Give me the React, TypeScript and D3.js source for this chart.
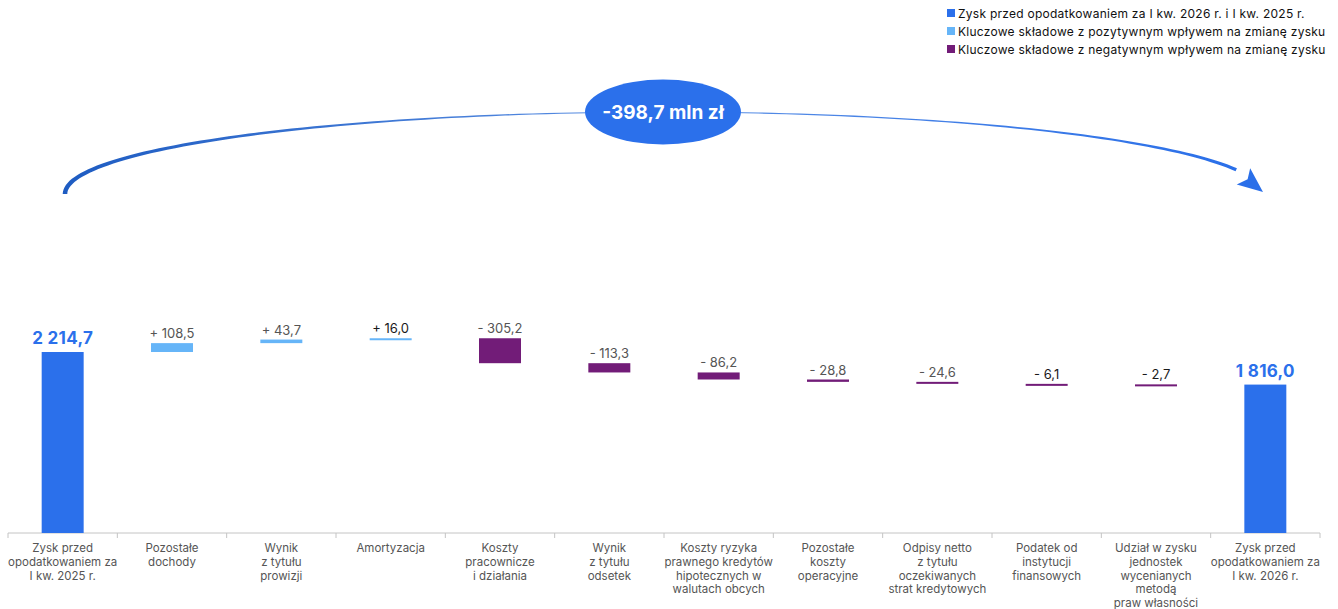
import React from "react";
import * as d3 from "d3";

const categories: string[][] = [
  ["Zysk przed", "opodatkowaniem za", "I kw. 2025 r."],
  ["Pozostałe", "dochody"],
  ["Wynik", "z tytułu", "prowizji"],
  ["Amortyzacja"],
  ["Koszty", "pracownicze", "i działania"],
  ["Wynik", "z tytułu", "odsetek"],
  ["Koszty ryzyka", "prawnego kredytów", "hipotecznych w", "walutach obcych"],
  ["Pozostałe", "koszty", "operacyjne"],
  ["Odpisy netto", "z tytułu", "oczekiwanych", "strat kredytowych"],
  ["Podatek od", "instytucji", "finansowych"],
  ["Udział w zysku", "jednostek", "wycenianych", "metodą", "praw własności"],
  ["Zysk przed", "opodatkowaniem za", "I kw. 2026 r."],
];
const values: number[] = [2214.7, 108.5, 43.7, 16.0, -305.2, -113.3, -86.2, -28.8, -24.6, -6.1, -2.7, 1816.0];
const isTotal: boolean[] = [true, false, false, false, false, false, false, false, false, false, false, true];
const legendLabels: string[] = [
  "Zysk przed opodatkowaniem za I kw. 2026 r. i I kw. 2025 r.",
  "Kluczowe składowe z pozytywnym wpływem na zmianę zysku",
  "Kluczowe składowe z negatywnym wpływem na zmianę zysku",
];
const changeLabel = "-398,7 mln zł";

const W = 1338;
const H = 609;
const FONT = "Inter, 'Noto Sans', sans-serif";
const C_TOTAL = "#2b70eb";
const C_POS = "#66b5f8";
const C_NEG = "#721c78";

function fmt(v: number): string {
  const s = d3.format(",.1f")(Math.abs(v));
  return s.replace(/,/g, " ").replace(".", ",");
}

export default function App() {
  const x = d3
    .scaleBand<number>()
    .domain(values.map((_, i) => i))
    .range([8, 1320])
    .paddingInner(0.616)
    .paddingOuter(0.308);
  const y = d3.scaleLinear().domain([0, 2214.7]).range([533, 352]);
  const step = x.step();
  const bw = x.bandwidth();

  let cum = 0;
  const bars = values.map((v, i) => {
    let y0: number, y1: number, color: string;
    if (isTotal[i]) {
      y0 = 0;
      y1 = v;
      cum = v;
      color = C_TOTAL;
    } else {
      y0 = cum;
      y1 = cum + v;
      cum = y1;
      color = v >= 0 ? C_POS : C_NEG;
    }
    const top = Math.min(y(y0), y(y1));
    const h = Math.max(2, Math.abs(y(y0) - y(y1)));
    return { i, v, top, h, color };
  });

  // Tapered arc (elliptical)
  const cx = 664, cy = 194, rx = 599, ry = 82;
  const tEnd = Math.PI - 0.3;
  const N = 120;
  const outer: [number, number][] = [];
  const inner: [number, number][] = [];
  for (let k = 0; k <= N; k++) {
    const t = (k / N) * tEnd;
    const px = cx - rx * Math.cos(t);
    const py = cy - ry * Math.sin(t);
    const dx = rx * Math.sin(t);
    const dy = -ry * Math.cos(t);
    const len = Math.hypot(dx, dy);
    const nx = -dy / len, ny = dx / len;
    const f = k / N;
    const w = f < 0.5 ? 4.6 - (3.6 * f) / 0.5 : 1 + 2.4 * Math.pow((f - 0.5) / 0.5, 2);
    outer.push([px + (nx * w) / 2, py + (ny * w) / 2]);
    inner.push([px - (nx * w) / 2, py - (ny * w) / 2]);
  }
  const arcPath = d3.line()([...outer, ...inner.reverse()]) + "Z";
  const ex = cx - rx * Math.cos(tEnd), ey = cy - ry * Math.sin(tEnd);
  const tip: [number, number] = [1263, 192];
  const ddx = tip[0] - ex, ddy = tip[1] - ey;
  const dl = Math.hypot(ddx, ddy);
  const ux = ddx / dl, uy = ddy / dl;
  const bx = tip[0] - ux * 25, by = tip[1] - uy * 25;
  const head = d3.line()([
    tip,
    [bx - uy * 11, by + ux * 11],
    [bx + ux * 5, by + uy * 5],
    [bx + uy * 10, by - ux * 10],
  ]) + "Z";

  return (
    <div style={{ position: "absolute", left: 0, top: 0 }}>
      <svg width={W} height={H} style={{ display: "block", fontFamily: FONT }}>
        <defs>
          <linearGradient id="arcg" x1="0" x2="1" y1="0" y2="0">
            <stop offset="0" stopColor="#1e5cc2" />
            <stop offset="0.5" stopColor="#5a8fe4" />
            <stop offset="1" stopColor="#2a6fe9" />
          </linearGradient>
        </defs>
        {/* Legend */}
        {legendLabels.map((l, i) => (
          <g key={i} transform={`translate(947, ${13 + i * 18})`}>
            <rect x={0} y={-4} width={8} height={8} fill={[C_TOTAL, C_POS, C_NEG][i]} />
            <text x={11} y={4.5} fontSize={12} letterSpacing={0.26} fill="#111">
              {l}
            </text>
          </g>
        ))}
        {/* Arc */}
        <path d={arcPath} fill="url(#arcg)" />
        <path d={head} fill="#2a6fe9" />
        <ellipse cx={663} cy={112} rx={78} ry={32.5} fill={C_TOTAL} />
        <text x={663} y={119} textAnchor="middle" fontSize={19} fontWeight={700} fill="#fff">
          {changeLabel}
        </text>
        {/* Axis */}
        <line x1={8} x2={1320} y1={533} y2={533} stroke="#c4c4c4" />
        {d3.range(values.length + 1).map((i) => {
          const xx = 8 + i * step;
          return <line key={i} x1={xx} x2={xx} y1={533} y2={538} stroke="#c4c4c4" />;
        })}
        {/* Bars */}
        {bars.map((b) => (
          <rect key={b.i} x={x(b.i)} y={b.top} width={bw} height={b.h} fill={b.color} />
        ))}
        {/* Value labels */}
        {bars.map((b) => {
          const cxx = (x(b.i) as number) + bw / 2;
          if (isTotal[b.i]) {
            return (
              <text key={b.i} x={cxx} y={b.top - 8} textAnchor="middle" fontSize={17} fontWeight={700} letterSpacing={0.3} fill={C_TOTAL}>
                {fmt(b.v)}
              </text>
            );
          }
          return (
            <text
              key={b.i}
              x={cxx}
              y={b.top - 5}
              textAnchor="middle"
              fontSize={13}
              fill={Math.abs(b.v) < 20 ? "#1a1a1a" : "#555"}
            >
              {(b.v >= 0 ? "+ " : "- ") + fmt(b.v)}
            </text>
          );
        })}
        {/* Category labels */}
        {categories.map((lines, i) => (
          <text key={i} textAnchor="middle" fontSize={11.5} fill="#555">
            {lines.map((ln, j) => (
              <tspan key={j} x={(x(i) as number) + bw / 2} y={552 + j * 13.8}>
                {ln}
              </tspan>
            ))}
          </text>
        ))}
      </svg>
    </div>
  );
}
